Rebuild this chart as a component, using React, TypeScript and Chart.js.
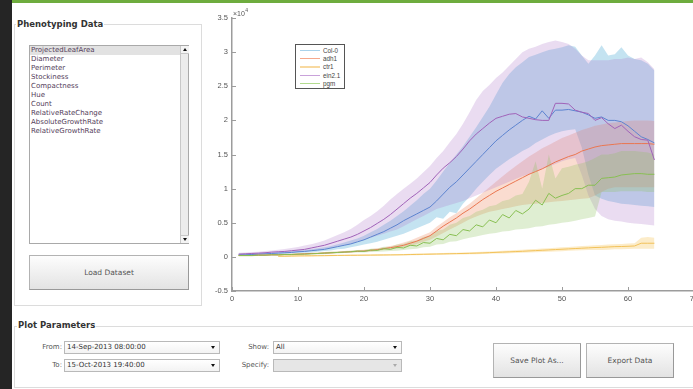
import React, { useEffect, useRef, useState } from "react";
import { Chart, registerables } from "chart.js";

Chart.register(...registerables);

// ---------- DATA ----------
const days = [
  1, 2, 3, 4, 5, 6, 7, 8, 9, 10, 11, 12, 13, 14, 15, 16, 17, 18, 19, 20,
  21, 22, 23, 24, 25, 26, 27, 28, 29, 30, 31, 32, 33, 34, 35, 36, 37, 38, 39, 40,
  41, 42, 43, 44, 45, 46, 47, 48, 49, 50, 51, 52, 53, 54, 55, 56, 57, 58, 59, 60,
  61, 62, 63, 64,
];
const ctr1Days = [
  7, 8, 9, 10, 11, 12, 13, 14, 15, 16, 17, 18, 19, 20, 21, 22, 23, 24, 25, 26,
  27, 28, 29, 30, 31, 32, 33, 34, 35, 36, 37, 38, 39, 40, 41, 42, 43, 44, 45, 46,
  47, 48, 49, 50, 51, 52, 53, 54, 55, 56, 57, 58, 59, 60, 61, 62, 63, 64,
];

// values in units of 10^4
const col0Mean = [
  0.03, 0.03, 0.035, 0.04, 0.045, 0.05, 0.055, 0.06, 0.065, 0.075,
  0.08, 0.09, 0.1, 0.11, 0.13, 0.15, 0.17, 0.19, 0.22, 0.25,
  0.29, 0.33, 0.37, 0.42, 0.47, 0.53, 0.58, 0.63, 0.68, 0.73,
  0.82, 0.92, 1.02, 1.1, 1.2, 1.3, 1.4, 1.5, 1.6, 1.7,
  1.78, 1.86, 1.93, 2.0, 2.06, 2.02, 2.14, 2.03, 2.15, 2.15,
  2.16, 2.14, 2.12, 2.08, 2.03, 2.05, 2.0, 2.0, 1.98, 1.92,
  1.84, 1.76, 1.72, 1.67,
];
const col0Low = [
  0.02, 0.02, 0.025, 0.03, 0.03, 0.035, 0.04, 0.045, 0.05, 0.055,
  0.06, 0.065, 0.075, 0.085, 0.095, 0.11, 0.12, 0.14, 0.16, 0.18,
  0.2, 0.22, 0.25, 0.28, 0.31, 0.34, 0.38, 0.42, 0.46, 0.5,
  0.58, 0.56, 0.66, 0.64, 0.78, 0.88, 1.0, 1.1, 1.2, 1.29,
  1.36, 1.43, 1.49, 1.55, 1.6, 1.67, 1.72, 1.77, 1.81, 1.84,
  1.86, 1.87, 1.6, 1.2, 0.9, 0.85, 0.82, 0.8, 0.78, 0.77,
  0.76, 0.75, 0.74, 0.73,
];
const col0High = [
  0.05, 0.05, 0.05, 0.055, 0.06, 0.065, 0.07, 0.075, 0.085, 0.095,
  0.1, 0.11, 0.125, 0.14, 0.16, 0.185, 0.21, 0.24, 0.27, 0.31,
  0.36, 0.41, 0.47, 0.53, 0.6, 0.67, 0.75, 0.83, 0.92, 1.0,
  1.12, 1.25, 1.38, 1.5, 1.62, 1.76, 1.9, 2.05, 2.2, 2.38,
  2.55, 2.68, 2.78, 2.85, 2.93, 2.96, 3.0, 3.03, 3.05, 3.07,
  3.1, 3.08, 2.95, 2.83, 2.95, 3.1, 2.95, 2.97, 3.07, 2.95,
  2.9, 2.88, 2.83, 2.73,
];

const adh1Mean = [
  0.02, 0.02, 0.02, 0.025, 0.025, 0.03, 0.03, 0.035, 0.035, 0.04,
  0.045, 0.05, 0.05, 0.055, 0.06, 0.065, 0.07, 0.075, 0.08, 0.085,
  0.095, 0.105, 0.12, 0.135, 0.15, 0.17, 0.2, 0.23, 0.27, 0.31,
  0.38, 0.45, 0.51, 0.57, 0.64, 0.7, 0.77, 0.84, 0.9, 0.96,
  1.01, 1.06, 1.11, 1.16, 1.21, 1.25, 1.29, 1.34, 1.39, 1.43,
  1.47, 1.5, 1.55, 1.58, 1.61, 1.63, 1.64, 1.65, 1.66, 1.66,
  1.66, 1.66, 1.66, 1.65,
];
const adh1Low = [
  0.01, 0.01, 0.01, 0.015, 0.015, 0.02, 0.02, 0.025, 0.025, 0.03,
  0.035, 0.04, 0.04, 0.045, 0.05, 0.055, 0.06, 0.065, 0.07, 0.07,
  0.08, 0.09, 0.1, 0.11, 0.12, 0.14, 0.16, 0.19, 0.22, 0.25,
  0.3, 0.35, 0.4, 0.45, 0.5, 0.55, 0.59, 0.63, 0.66, 0.68,
  0.7, 0.72, 0.74, 0.76, 0.77, 0.78, 0.79, 0.8, 0.81, 0.82,
  0.83, 0.84, 0.85, 0.86, 0.9, 0.95, 1.0, 1.02, 1.02, 1.02,
  1.02, 1.02, 1.02, 1.02,
];
const adh1High = [
  0.03, 0.03, 0.03, 0.035, 0.035, 0.04, 0.04, 0.045, 0.045, 0.05,
  0.055, 0.06, 0.065, 0.07, 0.075, 0.08, 0.085, 0.09, 0.1, 0.105,
  0.115, 0.125, 0.14, 0.16, 0.18, 0.21, 0.24, 0.28, 0.32, 0.36,
  0.44, 0.51, 0.58, 0.64, 0.71, 0.78, 0.86, 0.94, 1.02, 1.1,
  1.18, 1.26, 1.33, 1.4, 1.47, 1.53, 1.59, 1.64, 1.69, 1.74,
  1.78, 1.82, 1.86, 1.89, 1.92, 1.94, 1.96, 1.97, 1.98, 1.99,
  2.0, 2.0, 2.0, 1.99,
];

const ctr1Mean = [
  0.01, 0.01, 0.012, 0.014, 0.015, 0.016, 0.017, 0.018, 0.02, 0.021,
  0.022, 0.023, 0.024, 0.025, 0.026, 0.027, 0.028, 0.029, 0.03, 0.032,
  0.034, 0.036, 0.038, 0.04, 0.042, 0.044, 0.046, 0.048, 0.05, 0.052,
  0.055, 0.058, 0.062, 0.066, 0.07, 0.074, 0.078, 0.082, 0.087, 0.092,
  0.097, 0.102, 0.107, 0.112, 0.117, 0.122, 0.127, 0.132, 0.137, 0.14,
  0.145, 0.15, 0.152, 0.155, 0.16, 0.2, 0.2, 0.2,
];
const ctr1Low = [
  0.0, 0.0, 0.003, 0.005, 0.006, 0.007, 0.008, 0.009, 0.01, 0.011,
  0.012, 0.013, 0.014, 0.015, 0.016, 0.017, 0.018, 0.019, 0.02, 0.021,
  0.022, 0.024, 0.026, 0.028, 0.03, 0.031, 0.033, 0.034, 0.036, 0.038,
  0.04, 0.042, 0.045, 0.048, 0.05, 0.054, 0.057, 0.06, 0.064, 0.068,
  0.072, 0.076, 0.08, 0.084, 0.088, 0.092, 0.096, 0.1, 0.1, 0.1,
  0.105, 0.11, 0.112, 0.115, 0.12, 0.12, 0.12, 0.12,
];
const ctr1High = [
  0.02, 0.02, 0.022, 0.024, 0.025, 0.026, 0.027, 0.028, 0.03, 0.031,
  0.032, 0.033, 0.034, 0.035, 0.036, 0.037, 0.038, 0.039, 0.04, 0.043,
  0.046, 0.048, 0.05, 0.052, 0.054, 0.057, 0.06, 0.062, 0.064, 0.066,
  0.07, 0.074, 0.079, 0.084, 0.09, 0.095, 0.1, 0.105, 0.11, 0.116,
  0.122, 0.128, 0.134, 0.14, 0.146, 0.152, 0.158, 0.164, 0.17, 0.175,
  0.18, 0.185, 0.19, 0.195, 0.2, 0.28, 0.29, 0.28,
];

const ein21Mean = [
  0.04, 0.045, 0.05, 0.055, 0.06, 0.07, 0.075, 0.08, 0.09, 0.1,
  0.11, 0.13, 0.15, 0.17, 0.2, 0.23, 0.26, 0.29, 0.33, 0.38,
  0.43, 0.49, 0.55, 0.62, 0.7, 0.78, 0.86, 0.93, 1.01, 1.09,
  1.2, 1.3, 1.38, 1.47, 1.58, 1.7, 1.8, 1.88, 1.96, 2.03,
  2.06, 2.09, 2.1, 2.05, 2.03, 2.01, 2.0, 2.0, 2.25, 2.25,
  2.24, 2.15, 2.12, 2.1, 2.0, 2.04, 1.95, 1.88, 1.93, 1.84,
  1.76, 1.72, 1.71, 1.42,
];
const ein21Low = [
  0.03, 0.03, 0.035, 0.04, 0.045, 0.05, 0.055, 0.06, 0.065, 0.07,
  0.08, 0.09, 0.1, 0.115, 0.13, 0.15, 0.17, 0.19, 0.22, 0.25,
  0.28, 0.31, 0.34, 0.37, 0.4, 0.45, 0.5, 0.55, 0.6, 0.65,
  0.7, 0.73, 0.76, 0.79, 0.82, 0.86, 0.9, 0.94, 0.98, 1.02,
  1.06, 1.1, 1.14, 1.18, 1.21, 1.25, 1.29, 1.32, 1.36, 1.4,
  1.43, 1.45, 1.2, 0.9, 0.7, 0.6, 0.55, 0.53, 0.52, 0.5,
  0.49, 0.48, 0.47, 0.46,
];
const ein21High = [
  0.06, 0.065, 0.07, 0.075, 0.085, 0.095, 0.105, 0.115, 0.13, 0.145,
  0.165, 0.185, 0.21, 0.24, 0.28, 0.32, 0.36, 0.41, 0.47, 0.54,
  0.6, 0.67, 0.75, 0.84, 0.92, 1.0, 1.07, 1.15, 1.24, 1.33,
  1.45, 1.55, 1.68, 1.8, 1.95, 2.12, 2.3, 2.43, 2.52, 2.62,
  2.7, 2.8, 2.9, 3.0, 3.05, 3.08, 3.12, 3.15, 3.17, 3.15,
  3.12, 3.05, 2.95, 2.88, 2.88, 2.88, 2.88, 2.9, 2.9, 2.92,
  2.9, 2.92, 2.85, 2.75,
];

const pgmMean = [
  0.02, 0.02, 0.02, 0.025, 0.025, 0.03, 0.03, 0.035, 0.035, 0.04,
  0.04, 0.045, 0.05, 0.055, 0.06, 0.065, 0.07, 0.075, 0.085, 0.08,
  0.1, 0.095, 0.12, 0.11, 0.14, 0.13, 0.17, 0.16, 0.21, 0.2,
  0.27, 0.25, 0.33, 0.31, 0.4, 0.38, 0.47, 0.44, 0.54, 0.5,
  0.62, 0.57, 0.68, 0.63, 0.7, 0.83, 0.76, 0.93, 0.86, 0.9,
  0.93, 1.0, 1.0, 1.05, 1.05, 1.15, 1.16, 1.17, 1.2, 1.21,
  1.22, 1.22, 1.21, 1.21,
];
const pgmLow = [
  0.01, 0.01, 0.01, 0.015, 0.015, 0.02, 0.02, 0.025, 0.025, 0.03,
  0.03, 0.035, 0.04, 0.04, 0.045, 0.05, 0.055, 0.06, 0.065, 0.065,
  0.07, 0.075, 0.08, 0.085, 0.09, 0.1, 0.11, 0.12, 0.14, 0.15,
  0.18, 0.19, 0.22, 0.23, 0.26, 0.28, 0.3, 0.32, 0.34, 0.35,
  0.37, 0.38, 0.4, 0.41, 0.42, 0.44, 0.45, 0.47, 0.48, 0.5,
  0.51, 0.53, 0.55, 0.57, 0.59, 0.95, 0.95, 0.95, 0.96, 0.96,
  0.96, 0.96, 0.95, 0.95,
];
const pgmHigh = [
  0.03, 0.03, 0.03, 0.035, 0.035, 0.04, 0.04, 0.045, 0.045, 0.05,
  0.05, 0.055, 0.06, 0.07, 0.075, 0.08, 0.085, 0.09, 0.1, 0.1,
  0.12, 0.12, 0.15, 0.15, 0.18, 0.19, 0.23, 0.24, 0.29, 0.31,
  0.38, 0.4, 0.47, 0.5, 0.57, 0.6, 0.66, 0.69, 0.74, 0.76,
  0.82, 0.84, 0.9, 0.92, 1.1, 1.4, 1.0, 1.5, 1.15, 1.3,
  1.32, 1.35, 1.37, 1.4, 1.45, 1.5, 1.5, 1.52, 1.55, 1.55,
  1.55, 1.54, 1.53, 1.5,
];

const xTickStep = 10;
const yTickStep = 0.5;
const yExponentText = "×10";
const yExponent = "4";

const listItems = [
  "ProjectedLeafArea",
  "Diameter",
  "Perimeter",
  "Stockiness",
  "Compactness",
  "Hue",
  "Count",
  "RelativeRateChange",
  "AbsoluteGrowthRate",
  "RelativeGrowthRate",
];

const series = [
  { label: "Col-0", xs: days, mean: col0Mean, low: col0Low, high: col0High,
    line: "#5c83cf", band: "rgba(115,188,222,0.42)", legend: "#a9d2ea" },
  { label: "adh1", xs: days, mean: adh1Mean, low: adh1Low, high: adh1High,
    line: "#ea7650", band: "rgba(240,140,100,0.3)", legend: "#f5a88c" },
  { label: "ctr1", xs: ctr1Days, mean: ctr1Mean, low: ctr1Low, high: ctr1High,
    line: "#f2c25a", band: "rgba(245,200,100,0.35)", legend: "#f8d9a0" },
  { label: "ein2.1", xs: days, mean: ein21Mean, low: ein21Low, high: ein21High,
    line: "#a062b8", band: "rgba(175,120,200,0.26)", legend: "#c9a2da" },
  { label: "pgm", xs: days, mean: pgmMean, low: pgmLow, high: pgmHigh,
    line: "#88bf52", band: "rgba(140,195,95,0.28)", legend: "#b3dc8f" },
];

const pts = (xs: number[], ys: number[]) => ys.map((y, i) => ({ x: xs[i], y }));

const AXIS = "#9c9c9c";
const TICKFONT = { family: "Liberation Sans", size: 7.5 };
const CANVAS_LEFT = 200;
const CANVAS_TOP = 0;

// inward MATLAB-style tick marks and the ×10^4 exponent, placed via the chart's scales
const axisDecor = {
  id: "axisDecor",
  afterDraw(chart: any) {
    const { ctx, chartArea, scales } = chart;
    ctx.save();
    ctx.strokeStyle = AXIS;
    ctx.lineWidth = 1;
    ctx.beginPath();
    scales.x.ticks.forEach((t: any) => {
      const px = Math.round(scales.x.getPixelForValue(t.value)) + 0.5;
      ctx.moveTo(px, chartArea.bottom);
      ctx.lineTo(px, chartArea.bottom - 4);
    });
    scales.y.ticks.forEach((t: any) => {
      const py = Math.round(scales.y.getPixelForValue(t.value)) + 0.5;
      ctx.moveTo(chartArea.left, py);
      ctx.lineTo(chartArea.left + 4, py);
    });
    ctx.stroke();
    ctx.fillStyle = "#555";
    ctx.textAlign = "left";
    ctx.textBaseline = "alphabetic";
    ctx.font = "7px 'Liberation Sans'";
    ctx.fillText(yExponentText, chartArea.left + 1, chartArea.top - 2);
    const w = ctx.measureText(yExponentText).width;
    ctx.font = "5px 'Liberation Sans'";
    ctx.fillText(yExponent, chartArea.left + 1 + w + 0.5, chartArea.top - 6);
    ctx.restore();
  },
};

function PlotChart() {
  const ref = useRef<HTMLCanvasElement | null>(null);
  const [yLabels, setYLabels] = useState<{ text: string; y: number; x: number }[]>([]);
  useEffect(() => {
    if (!ref.current) return;
    const datasets: any[] = [];
    series.forEach((s, i) => {
      const ord = 50 - i * 10;
      datasets.push({
        label: s.label + " hi",
        data: pts(s.xs, s.high),
        borderWidth: 0,
        borderColor: "transparent",
        pointRadius: 0,
        fill: false,
        order: ord,
      });
      datasets.push({
        label: s.label + " lo",
        data: pts(s.xs, s.low),
        borderWidth: 0,
        borderColor: "transparent",
        backgroundColor: s.band,
        pointRadius: 0,
        fill: "-1",
        order: ord,
      });
    });
    series.forEach((s, i) => {
      datasets.push({
        label: s.label,
        data: pts(s.xs, s.mean),
        borderColor: s.line,
        borderWidth: 1,
        pointRadius: 0,
        fill: false,
        tension: 0,
        order: 5 - i,
      });
    });
    const chart = new Chart(ref.current, {
      type: "line",
      data: { datasets },
      options: {
        animation: false,
        responsive: false,
        devicePixelRatio: 1,
        events: [],
        layout: { padding: { top: 18, right: 26, left: 0, bottom: 0 } },
        plugins: {
          legend: { display: false },
          tooltip: { enabled: false },
          filler: { propagate: false },
        },
        scales: {
          x: {
            type: "linear",
            min: 0,
            max: 70,
            afterFit: (sc: any) => {
              sc.height = 19;
            },
            ticks: {
              stepSize: xTickStep, color: "#555", font: TICKFONT, padding: 3, maxRotation: 0,
              autoSkip: false, includeBounds: true,
              callback: (v: any) => String(v),
            },
            grid: { display: true, drawOnChartArea: false, drawTicks: false },
            border: { display: true, color: AXIS, width: 1.5 },
          },
          y: {
            type: "linear",
            min: -0.5,
            max: 3.5,
            afterFit: (sc: any) => {
              sc.width = 32;
            },
            ticks: {
              display: false, stepSize: yTickStep, autoSkip: false, includeBounds: true,
            },
            grid: { display: true, drawOnChartArea: false, drawTicks: false },
            border: { display: true, color: AXIS, width: 1.5 },
          },
        },
      } as any,
      plugins: [axisDecor],
    });
    const ys: any = chart.scales.y;
    setYLabels(
      ys.ticks.map((t: any) => ({
        text: String(Math.round(t.value * 10) / 10),
        y: CANVAS_TOP + ys.getPixelForValue(t.value),
        x: CANVAS_LEFT + chart.chartArea.left - 4,
      }))
    );
    return () => chart.destroy();
  }, []);
  return (
    <>
      <canvas
        ref={ref}
        width={520}
        height={310}
        style={{ position: "absolute", left: CANVAS_LEFT, top: CANVAS_TOP, width: 520, height: 310, zIndex: 5 }}
      />
      {yLabels.map((l) => (
        <div key={l.text} style={{
          position: "absolute", left: l.x - 30, width: 30, top: l.y - 5, height: 10,
          lineHeight: "10px", textAlign: "right", fontSize: 7.5, color: "#555",
          fontFamily: "'Liberation Sans', sans-serif", zIndex: 10, whiteSpace: "nowrap",
        }}>{l.text}</div>
      ))}
    </>
  );
}

const abs = (l: number, t: number, w: number, h: number): React.CSSProperties => ({
  position: "absolute", left: l, top: t, width: w, height: h, boxSizing: "border-box",
});

function Dropdown({ l, t, text, disabled }: { l: number; t: number; text: string; disabled?: boolean }) {
  const w = l < 200 ? 156 : 129;
  return (
    <div style={{
      ...abs(l, t, w, 13), border: "1px solid #b9b9b9",
      background: disabled ? "#e6e6e6" : "linear-gradient(#ffffff,#f3f3f3)",
      fontSize: 7, color: "#333", lineHeight: "11px", paddingLeft: 2, whiteSpace: "nowrap",
    }}>
      {text}
      <div style={{
        position: "absolute", right: 4, top: 4, width: 0, height: 0,
        borderLeft: "2px solid transparent", borderRight: "2px solid transparent",
        borderTop: disabled ? "3px solid #aaa" : "3px solid #111",
      }} />
    </div>
  );
}

function Button({ l, t, w, h, text }: { l: number; t: number; w: number; h: number; text: string }) {
  return (
    <div style={{
      ...abs(l, t, w, h), border: "1px solid #b3b3b3", borderRightColor: "#999", borderBottomColor: "#999",
      background: "linear-gradient(#fdfdfd,#e3e3e3)", fontSize: 7.5, color: "#555",
      display: "flex", alignItems: "center", justifyContent: "center",
    }}>{text}</div>
  );
}

export default function App() {
  return (
    <div style={{
      position: "fixed", left: 0, top: 0, width: 693, height: 389, overflow: "hidden",
      background: "#ffffff", fontFamily: "'DejaVu Sans', sans-serif",
    }}>
      <div style={{ ...abs(0, 0, 12, 389), background: "#252525" }} />
      <div style={{ ...abs(12, 0, 681, 3), background: "#6eac3e" }} />

      {/* Phenotyping Data panel */}
      <div style={{ ...abs(14, 24, 188, 282), border: "1px solid #dcdcdc" }} />
      <div style={{
        position: "absolute", left: 16, top: 18, padding: "0 1px", background: "#fff",
        fontSize: 8.5, fontWeight: "bold", color: "#333", lineHeight: "12px", whiteSpace: "nowrap",
      }}>Phenotyping Data</div>

      <div style={{ ...abs(29, 45, 160, 199), border: "1px solid #a9a9a9", background: "#fff" }}>
        {listItems.map((it, i) => (
          <div key={it} style={{
            position: "absolute", left: 0, top: i * 9, width: 150, height: 9,
            background: i === 0 ? "#e2e2e2" : "transparent",
            fontSize: 7, lineHeight: "9px", color: "#54405a", paddingLeft: 1, whiteSpace: "nowrap",
          }}>{it}</div>
        ))}
        <div style={{ ...abs(150, 0, 8, 197), background: "#ececec", borderLeft: "1px solid #c8c8c8" }}>
          <div style={{ ...abs(0, 0, 8, 8), background: "#f4f4f4", borderBottom: "1px solid #c8c8c8" }}>
            <div style={{
              position: "absolute", left: 2, top: 2, width: 0, height: 0,
              borderLeft: "2px solid transparent", borderRight: "2px solid transparent",
              borderBottom: "3px solid #111",
            }} />
          </div>
          <div style={{ ...abs(0, 189, 8, 8), background: "#f4f4f4", borderTop: "1px solid #c8c8c8" }}>
            <div style={{
              position: "absolute", left: 2, top: 2, width: 0, height: 0,
              borderLeft: "2px solid transparent", borderRight: "2px solid transparent",
              borderTop: "3px solid #111",
            }} />
          </div>
        </div>
      </div>

      <Button l={29} t={255} w={160} h={35} text="Load Dataset" />

      {/* Chart */}
      <PlotChart />

      {/* Legend */}
      <div style={{ ...abs(295, 44, 50, 45), border: "1px solid #555", background: "#fff", zIndex: 6 }}>
        {series.map((s, i) => (
          <div key={s.label} style={{ position: "absolute", left: 0, top: 1 + i * 8.2, height: 8, width: 48 }}>
            <div style={{ position: "absolute", left: 4, top: 4, width: 20, height: 1.3, background: s.legend }} />
            <div style={{
              position: "absolute", left: 27, top: 0, fontSize: 6.3, lineHeight: "9px", color: "#444",
              fontFamily: "'Liberation Sans', sans-serif", whiteSpace: "nowrap",
            }}>{s.label}</div>
          </div>
        ))}
      </div>

      {/* Plot Parameters panel */}
      <div style={{ ...abs(14, 326, 700, 62), border: "1px solid #dcdcdc" }} />
      <div style={{
        position: "absolute", left: 17, top: 319, padding: "0 1px", background: "#fff",
        fontSize: 8.5, fontWeight: "bold", color: "#333", lineHeight: "12px", whiteSpace: "nowrap",
      }}>Plot Parameters</div>

      <div style={{ position: "absolute", right: 693 - 62, top: 342, fontSize: 7, color: "#555", lineHeight: "11px" }}>From:</div>
      <div style={{ position: "absolute", right: 693 - 62, top: 360, fontSize: 7, color: "#555", lineHeight: "11px" }}>To:</div>
      <Dropdown l={64} t={341} text="14-Sep-2013 08:00:00" />
      <Dropdown l={64} t={359} text="15-Oct-2013 19:40:00" />

      <div style={{ position: "absolute", right: 693 - 269, top: 342, fontSize: 7, color: "#555", lineHeight: "11px" }}>Show:</div>
      <div style={{ position: "absolute", right: 693 - 269, top: 360, fontSize: 7, color: "#555", lineHeight: "11px" }}>Specify:</div>
      <Dropdown l={273} t={341} text="All" />
      <Dropdown l={273} t={359} text="" disabled />

      <Button l={493} t={343} w={88} h={35} text="Save Plot As..." />
      <Button l={586} t={343} w={88} h={35} text="Export Data" />
    </div>
  );
}
